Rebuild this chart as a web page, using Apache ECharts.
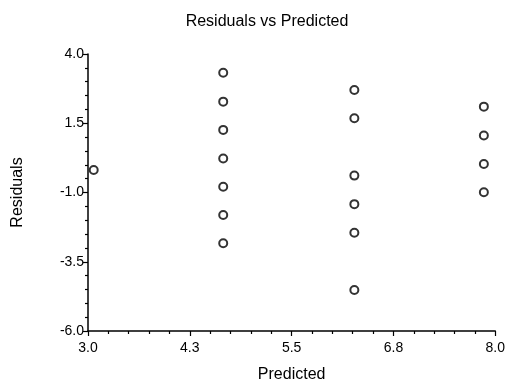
<!DOCTYPE html>
<html>
<head>
<meta charset="utf-8">
<script src="https://cdn.jsdelivr.net/npm/echarts@6/dist/echarts.min.js"></script>
<style>
  html, body { margin: 0; padding: 0; background: #fff; }
  #main { width: 508px; height: 391px; }
</style>
</head>
<body>
<div id="main"></div>
<script>
// predicted value of each point, and its residual
var predicted = [3.07, 4.66, 4.66, 4.66, 4.66, 4.66, 4.66, 4.66,
  6.27, 6.27, 6.27, 6.27, 6.27, 6.27, 7.86, 7.86, 7.86, 7.86];
var residuals = [-0.19, 3.32, 2.28, 1.26, 0.23, -0.79, -1.81, -2.83,
  2.70, 1.68, -0.39, -1.42, -2.45, -4.52, 2.10, 1.06, 0.03, -0.99];

var xTicks = [3.0, 4.25, 5.5, 6.75, 8.0];
var yTicks = [-6.0, -3.5, -1.0, 1.5, 4.0];
var xMinorTicks = [3.25, 3.5, 3.75, 4.0, 4.5, 4.75, 5.0, 5.25, 5.75, 6.0, 6.25, 6.5, 7.0, 7.25, 7.5, 7.75];
var yMinorTicks = [-5.5, -5.0, -4.5, -4.0, -3.0, -2.5, -2.0, -1.5, -0.5, 0.0, 0.5, 1.0, 2.0, 2.5, 3.0, 3.5];

var font = 'Liberation Sans, Arial, sans-serif';

var points = [];
for (var i = 0; i < predicted.length; i++) {
  points.push([predicted[i], residuals[i]]);
}

function fmt(v) {
  return Number(v).toFixed(1);
}

var myChart = echarts.init(document.getElementById('main'));
var option = {
  animation: false,
  backgroundColor: '#fff',
  title: {
    text: 'Residuals vs Predicted',
    left: 262,
    textAlign: 'center',
    top: 9,
    textStyle: { fontFamily: font, fontSize: 16, fontWeight: 'normal', color: '#000' }
  },
  grid: { left: 88, right: 12, top: 54, bottom: 60 },
  xAxis: [{
    type: 'value',
    min: 3,
    max: 8,
    name: 'Predicted',
    nameLocation: 'middle',
    nameGap: 36,
    nameTextStyle: { fontFamily: font, fontSize: 16, color: '#000' },
    splitLine: { show: false },
    axisLine: { onZero: false, lineStyle: { color: '#000', width: 1.5 } },
    axisTick: { show: true, customValues: xTicks, length: 5, lineStyle: { color: '#000', width: 1.2 } },
    axisLabel: { customValues: xTicks, formatter: fmt, margin: 10, fontFamily: font, fontSize: 14, color: '#000' }
  }, {
    type: 'value',
    min: 3,
    max: 8,
    position: 'bottom',
    splitLine: { show: false },
    axisLine: { show: false, onZero: false },
    axisTick: { show: true, customValues: xMinorTicks, length: 3, lineStyle: { color: '#000', width: 1.2 } },
    axisLabel: { show: false }
  }],
  yAxis: [{
    type: 'value',
    min: -6,
    max: 4,
    name: 'Residuals',
    nameLocation: 'middle',
    nameGap: 62,
    nameTextStyle: { fontFamily: font, fontSize: 16, color: '#000' },
    splitLine: { show: false },
    axisLine: { show: true, onZero: false, lineStyle: { color: '#000', width: 1.5 } },
    axisTick: { show: true, customValues: yTicks, length: 5, lineStyle: { color: '#000', width: 1.2 } },
    axisLabel: { customValues: yTicks, formatter: fmt, margin: 4, fontFamily: font, fontSize: 14, color: '#000' }
  }, {
    type: 'value',
    min: -6,
    max: 4,
    position: 'left',
    splitLine: { show: false },
    axisLine: { show: false, onZero: false },
    axisTick: { show: true, customValues: yMinorTicks, length: 3, lineStyle: { color: '#000', width: 1.2 } },
    axisLabel: { show: false }
  }],
  series: [{
    type: 'scatter',
    xAxisIndex: 0,
    yAxisIndex: 0,
    symbol: 'emptyCircle',
    symbolSize: 8,
    itemStyle: { color: '#000', borderColor: '#000', borderWidth: 1.6 },
    data: points
  }]
};
myChart.setOption(option);
</script>
</body>
</html>
